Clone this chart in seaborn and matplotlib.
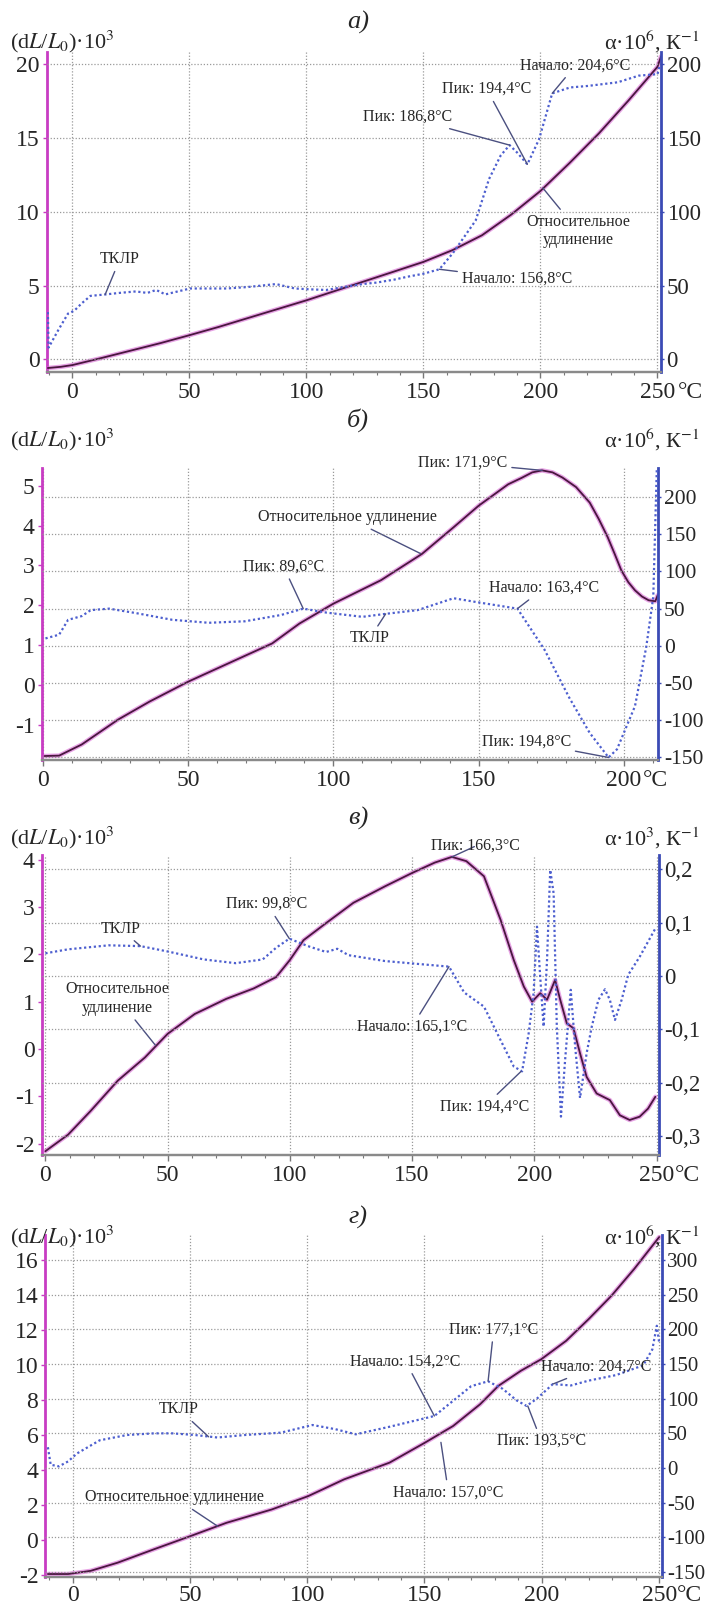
import numpy as np
import pandas as pd
import matplotlib
matplotlib.use("Agg")
import matplotlib.pyplot as plt
import seaborn as sns
from matplotlib.ticker import FuncFormatter, MultipleLocator, FixedLocator

sns.set_style("white")
plt.rcParams['font.family'] = ['Liberation Serif', 'DejaVu Serif']
plt.rcParams['mathtext.fontset'] = 'stix'
plt.rcParams['axes.unicode_minus'] = False

# ---------------- data: panel а) ----------------
a_T_elong = [-10.5, -5, 0, 12.5, 25, 37.5, 50, 62.5, 75, 87.5, 100, 112.5, 125, 137.5,
             150, 162.5, 175, 187.5, 200, 212.5, 225, 237.5, 250, 251.5]
a_elong = [-0.58, -0.5, -0.38, 0.1, 0.6, 1.1, 1.64, 2.2, 2.8, 3.4, 4.0, 4.65, 5.3, 5.95,
           6.6, 7.4, 8.4, 9.8, 11.4, 13.3, 15.3, 17.5, 19.8, 20.5]
a_T_tklr = [-10.5, -10.2, -6, -1.9, 0.8, 4, 7.7, 14.3, 20, 27.1, 32, 35.8, 39.7, 45, 50.3,
            58, 66, 75, 87, 95, 100.7, 108.4, 116, 124, 130, 137.5, 143.3, 150, 156.8,
            162.6, 167, 172.3, 178, 183, 186.8, 190, 194.4, 199.4, 205, 212.6, 220, 233,
            242, 250, 251]
a_tklr = [32, 8, 20, 31, 33, 38, 43, 44, 45, 46, 45, 47, 44, 46, 48,
          48, 48, 49, 51, 48, 47.5, 47, 49, 51, 52, 54, 56, 58, 61,
          72, 82, 94, 122, 138, 145, 140, 132, 149, 180, 184, 185, 187.5,
          192, 193, 199]

# ---------------- data: panel б) ----------------
b_T_elong = [0.5, 5.5, 13.3, 25.8, 36.7, 50, 66.4, 78.9, 88.3, 100, 116.4, 130.5, 141.4,
             150, 160.2, 164.8, 168.5, 171.9, 175.5, 178.9, 183.6, 188.3, 191.4, 194.5, 196.9,
             199.2, 201.6, 203.9, 206.3, 208.6, 210.9, 211.7]
b_elong = [-1.79, -1.78, -1.5, -0.875, -0.42, 0.08, 0.625, 1.04, 1.54, 2.04, 2.63, 3.29, 3.96,
           4.5, 5.04, 5.2, 5.34, 5.39, 5.34, 5.21, 4.97, 4.58, 4.17, 3.71, 3.29,
           2.875, 2.58, 2.375, 2.22, 2.125, 2.1, 2.25]
b_T_tklr = [0.8, 5.5, 8.6, 13.3, 16.4, 22.7, 32, 44.5, 57, 69.5, 82, 89.6, 97.7, 110, 118,
            129, 141.4, 149, 163.4, 172.7, 181.3, 188.3, 194.8, 197.7, 203.9, 207.8, 210.2, 211.4]
b_tklr = [10, 15, 35, 40, 48, 50, 44, 35, 31, 33, 41.5, 50, 44.6, 39, 43,
          48, 64, 59, 50, -5, -70, -117, -150, -139, -81, -1, 66, 236]

# ---------------- data: panel в) ----------------
c_T_elong = [0, 9.3, 18.5, 29.6, 40.7, 50, 61.1, 74, 85.2, 94.4, 100, 105.6, 114.8, 126,
             139, 150, 159.3, 166.3, 172.2, 179.4, 186.2, 191.6, 195.7, 199.1, 202.4, 205.2,
             208.5, 210.6, 213.3, 216, 218.7, 221.4, 225.5, 230.9, 235, 239, 243.1, 246.5, 249.5]
c_elong = [-2.16, -1.81, -1.31, -0.67, -0.18, 0.32, 0.74, 1.06, 1.28, 1.52, 1.88, 2.30, 2.66, 3.09,
           3.44, 3.72, 3.94, 4.06, 3.97, 3.65, 2.73, 1.88, 1.32, 1.0, 1.18, 1.04,
           1.46, 1.04, 0.54, 0.44, -0.09, -0.59, -0.94, -1.08, -1.40, -1.50, -1.43, -1.26, -1.01]
c_T_tklr = [0, 9.3, 25.9, 38.9, 50, 64.8, 77.8, 88.9, 94.4, 99.8, 107.4, 114.8, 119.4, 124,
            138.9, 165.1, 171.3, 179.4, 187.5, 191.6, 195.0, 197.7, 199.7, 201.1, 202.4, 203.8,
            205.2, 206.5, 207.9, 209.2, 210.9, 212.6, 214.9, 216.7, 218.7, 221.4, 223.5, 226.2,
            228.9, 230.9, 233.0, 235.7, 238.4, 243.1, 249.5]
c_tklr = [0.0425, 0.05, 0.0575, 0.056, 0.046, 0.031, 0.024, 0.031, 0.053, 0.07, 0.056, 0.045,
          0.051, 0.039, 0.028, 0.0175, -0.031, -0.0575, -0.1325, -0.17, -0.179, -0.1075, -0.0325,
          0.0925, -0.001, -0.095, 0.03, 0.199, 0.155, -0.095, -0.264, -0.1575, -0.026, -0.1325,
          -0.229, -0.145, -0.095, -0.045, -0.025, -0.045, -0.0825, -0.045, 0.002, 0.036, 0.089]

# ---------------- data: panel г) ----------------
d_T_elong = [-10.5, -1.9, 7.7, 19.3, 34.7, 50.2, 65.6, 84.9, 100.4, 115.8, 135.1, 150.2,
             162.2, 173.7, 181.5, 191.1, 199.8, 210.4, 220, 229.7, 239.4, 250]
d_elong = [-1.93, -1.93, -1.75, -1.28, -0.52, 0.23, 0.99, 1.75, 2.51, 3.47, 4.42, 5.56,
           6.51, 7.75, 8.8, 9.66, 10.32, 11.37, 12.61, 13.94, 15.47, 17.28]
d_T_tklr = [-10.5, -9.3, -5.8, -1.9, 1.9, 11.6, 23.2, 34.7, 42.5, 52.1, 61.8, 73.4, 88.8,
            102.3, 112, 120.7, 135.1, 154.2, 169.9, 177.1, 183.4, 189.2, 193.5, 197.9, 204.7,
            212.4, 220, 231.7, 243.2, 247.1, 249, 250]
d_tklr = [30, 4.8, 2.4, 9.5, 21, 40, 47.6, 50, 50, 47.6, 44, 47.6, 51,
          62, 56, 48.6, 59.5, 75, 118, 125, 114, 97.6, 89.5, 100, 121,
          119, 126, 134, 148, 171, 205, 181]

# tick labels
a_xticks = [0, 50, 100, 150, 200, 250]
b_xticks = [0, 50, 100, 150, 200]
a_yticksL = [0, 5, 10, 15, 20]
a_yticksR = [0, 50, 100, 150, 200]
b_yticksL = [-1, 0, 1, 2, 3, 4, 5]
b_yticksR = [-150, -100, -50, 0, 50, 100, 150, 200]
c_yticksL = [-2, -1, 0, 1, 2, 3, 4]
c_yticksR = [-0.3, -0.2, -0.1, 0, 0.1, 0.2]
d_yticksL = [-2, 0, 2, 4, 6, 8, 10, 12, 14, 16]
d_yticksR = [-150, -100, -50, 0, 50, 100, 150, 200, 250, 300]

# ---------------- figure ----------------
W, H = 707, 1607
fig = plt.figure(figsize=(W / 100, H / 100), dpi=100)
fig.patch.set_facecolor('white')

ELONG_HALO = '#d45ad0'
ELONG_CORE = '#4a163f'
TKLR_COL = '#4d5fcf'
LEFT_SPINE = '#c83cc3'
RIGHT_SPINE = '#3b4bb5'
NOTE_COL = '#4b5080'
TICK_FS = 17
NOTE_FS = 11.5


def fmt_comma(v, p):
    if abs(v) < 1e-9:
        return '0'
    return f'{v:.1f}'.replace('.', ',')


def fmt_int(v, p):
    return f'{v:g}'


def make_panel(rect, T_e, E, T_k, K, xlim, ylimL, ylimR, xticks, ytL, ytR, fmtR,
               title, title_y, right_label, last_gap, notes, xpad=3, rfs=16):
    l, r, t, b = rect
    ax = fig.add_axes([l / W, 1 - b / H, (r - l) / W, (b - t) / H])
    ax2 = ax.twinx()
    ax.set_facecolor('white')

    df_e = pd.DataFrame({'T': T_e, 'v': E})
    df_k = pd.DataFrame({'T': T_k, 'v': K})
    sns.lineplot(data=df_e, x='T', y='v', ax=ax, color=ELONG_HALO, lw=3.2, alpha=0.55,
                 estimator=None, sort=False, zorder=3)
    sns.lineplot(data=df_e, x='T', y='v', ax=ax, color=ELONG_CORE, lw=1.3,
                 estimator=None, sort=False, zorder=4)
    sns.lineplot(data=df_k, x='T', y='v', ax=ax2, color=TKLR_COL, lw=1.6,
                 linestyle=(0, (1, 1.2)), estimator=None, sort=False, zorder=3)

    ax.set_xlim(*xlim)
    ax.set_ylim(*ylimL)
    ax2.set_ylim(*ylimR)
    ax.set_xlabel('')
    ax.set_ylabel('')
    ax2.set_ylabel('')

    ax.xaxis.set_major_locator(FixedLocator(xticks))
    ax.xaxis.set_minor_locator(MultipleLocator(10))
    ax.yaxis.set_major_locator(FixedLocator(ytL))
    ax.yaxis.set_major_formatter(FuncFormatter(fmt_int))
    ax2.yaxis.set_major_locator(FixedLocator(ytR))
    ax2.yaxis.set_major_formatter(FuncFormatter(fmtR))

    ax.grid(axis='x', color='#9a9a9a', linestyle=(0, (1, 1.5)), lw=0.9)
    ax2.grid(axis='y', color='#9a9a9a', linestyle=(0, (1, 1.5)), lw=0.9)
    ax.set_axisbelow(True)

    for a in (ax, ax2):
        a.spines['top'].set_visible(False)
        a.spines['bottom'].set_color('#8a8a8a')
        a.spines['bottom'].set_linewidth(1.6)
    ax.spines['left'].set_color(LEFT_SPINE)
    ax.spines['left'].set_linewidth(2.0)
    ax.spines['right'].set_visible(False)
    ax2.spines['left'].set_visible(False)
    ax2.spines['right'].set_color(RIGHT_SPINE)
    ax2.spines['right'].set_linewidth(2.0)

    ax.tick_params(axis='x', which='major', direction='out', length=4, width=1, color='#777',
                   labelsize=TICK_FS, pad=xpad, bottom=True)
    ax.tick_params(axis='x', which='minor', direction='out', length=2.5, width=0.8,
                   color='#777', bottom=True)
    ax.tick_params(axis='y', direction='out', length=3, width=1, color=LEFT_SPINE,
                   labelsize=TICK_FS, pad=2, left=True)
    ax2.tick_params(axis='y', direction='out', length=2.5, width=1, color=RIGHT_SPINE,
                    labelsize=rfs, pad=1.5, right=True)

    ax.annotate('°C', xy=(xticks[-1], 0), xycoords=('data', 'axes fraction'),
                xytext=(last_gap, -(4 + xpad) - 0.5), textcoords='offset points',
                ha='left', va='top', fontsize=TICK_FS)

    fig.text(358 / W, 1 - title_y / H, title, fontsize=19, style='italic',
             ha='center', va='center')
    lab_y = title_y + 20
    fig.text(10 / W, 1 - lab_y / H, r'(d$L$/$L_0$)·10$^3$', fontsize=16,
             ha='left', va='center')
    fig.text(700 / W, 1 - lab_y / H, right_label, fontsize=16, ha='right', va='center')

    for txt, side, xy, xytext in notes:
        target_ax = ax if side == 'L' else ax2
        target_ax.annotate(txt, xy=xy, xytext=xytext, textcoords='data', ha='center',
                           va='center', fontsize=NOTE_FS, multialignment='center',
                           annotation_clip=False, zorder=6,
                           arrowprops=dict(arrowstyle='-', color=NOTE_COL, lw=1.0,
                                           shrinkA=1, shrinkB=0))
    return ax, ax2


# panel а)
make_panel((46.7, 661, 52, 372), a_T_elong, a_elong, a_T_tklr, a_tklr,
           (-11, 251.5), (-0.85, 20.8), (-8.5, 208), a_xticks, a_yticksL, a_yticksR, fmt_int,
           'а)', 22, r'α·10$^6$, К$^{-1}$', 15,
           [('ТКЛР', 'R', (14, 44), (20.3, 68)),
            ('Пик: 186,8°C', 'R', (186.8, 145), (143, 164)),
            ('Пик: 194,4°C', 'R', (194.4, 132), (177, 183)),
            ('Начало: 204,6°C', 'R', (205, 180), (215, 199)),
            ('Относительное\nудлинение', 'L', (201, 11.6), (216, 8.7)),
            ('Начало: 156,8°C', 'R', (156.8, 61), (190, 54.5))], rfs=16.5)

# panel б)
make_panel((41.7, 658.5, 468, 760), b_T_elong, b_elong, b_T_tklr, b_tklr,
           (-0.5, 212), (-1.89, 5.45), (-153.4, 239), b_xticks, b_yticksL, b_yticksR, fmt_int,
           'б)', 420, r'α·10$^6$, К$^{-1}$', 14,
           [('Относительное удлинение', 'L', (130, 3.3), (104.7, 4.21)),
            ('Пик: 171,9°C', 'L', (171.9, 5.39), (144.5, 5.58)),
            ('Пик: 89,6°C', 'R', (89.6, 50), (82.8, 106.7)),
            ('ТКЛР', 'R', (118, 43), (112.5, 10)),
            ('Начало: 163,4°C', 'R', (163.4, 50), (172.7, 78)),
            ('Пик: 194,8°C', 'R', (194.8, -150), (166.4, -129))], rfs=15.5)

# panel в)
make_panel((41.7, 659, 855, 1155), c_T_elong, c_elong, c_T_tklr, c_tklr,
           (-1.5, 251), (-2.24, 4.1), (-0.336, 0.227), a_xticks, c_yticksL, c_yticksR, fmt_comma,
           'в)', 818, r'α·10$^3$, К$^{-1}$', 13,
           [('Пик: 166,3°C', 'L', (166.3, 4.06), (176, 4.29)),
            ('Пик: 99,8°C', 'R', (99.8, 0.07), (90.7, 0.135)),
            ('ТКЛР', 'R', (38.9, 0.056), (30.6, 0.089)),
            ('Относительное\nудлинение', 'L', (45, 0.08), (29.6, 1.07)),
            ('Начало: 165,1°C', 'R', (165.1, 0.0175), (150, -0.095)),
            ('Пик: 194,4°C', 'R', (194.6, -0.179), (179.6, -0.245))], rfs=16.5)

# panel г)
make_panel((45.3, 661.5, 1235, 1577), d_T_elong, d_elong, d_T_tklr, d_tklr,
           (-11.6, 251), (-2.1, 17.4), (-157, 335.8), a_xticks, d_yticksL, d_yticksR, fmt_int,
           'г)', 1217, r'α·10$^6$, К$^{-1}$', 13,
           [('ТКЛР', 'R', (58, 45), (45.4, 84.6)),
            ('Относительное удлинение', 'L', (61.8, 0.8), (43.4, 2.44)),
            ('Начало: 154,2°C', 'R', (154.2, 75), (141.9, 154)),
            ('Пик: 177,1°C', 'R', (177.1, 125), (179.5, 200)),
            ('Начало: 204,7°C', 'R', (204.7, 121), (223, 146)),
            ('Пик: 193,5°C', 'R', (194, 89.5), (199.8, 39)),
            ('Начало: 157,0°C', 'R', (157, 37), (160.2, -35))], xpad=1.5, rfs=15)

fig.savefig('out.png', dpi=100, facecolor='white')
